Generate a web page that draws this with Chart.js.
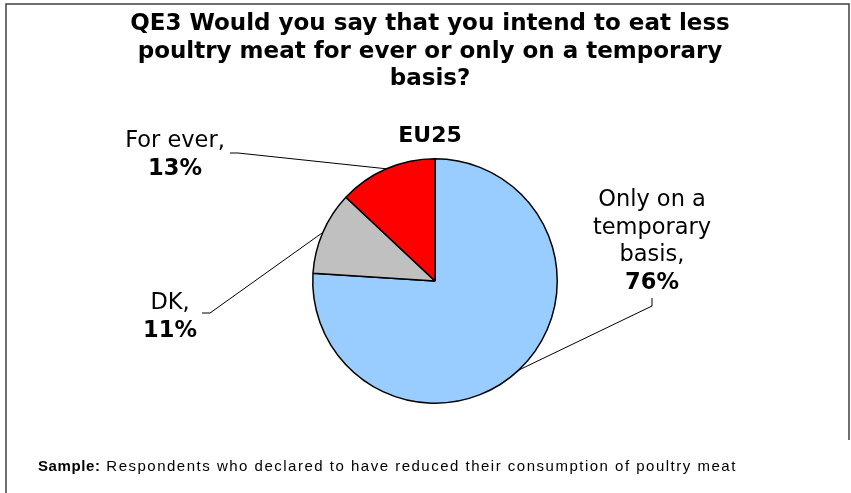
<!DOCTYPE html>
<html>
<head>
<meta charset="utf-8">
<script src="https://cdn.jsdelivr.net/npm/chart.js@4/dist/chart.umd.min.js"></script>
<style>
    html, body { margin: 0; padding: 0; background: #fff; }
    #wrap { width: 851px; height: 493px; position: relative; }
</style>
</head>
<body>
<div id="wrap"><canvas id="pie"></canvas></div>
<script>
// Данные диаграммы
const categories = ['Only on a temporary basis', 'DK', 'For ever'];
const values = [76, 11, 13];
const sliceColors = ['#99CCFF', '#C0C0C0', '#FF0000'];

// Подписи секторов (по строкам), процент добавляется жирным
const sliceLabelLines = [
    ['Only on a', 'temporary', 'basis,'],
    ['DK,'],
    ['For ever,']
];

const titleLines = [
    'QE3 Would you say that you intend to eat less',
    'poultry meat for ever or only on a temporary',
    'basis?'
];
const subTitle = 'EU25';
const sampleLabel = 'Sample:';
const sampleText = 'Respondents who declared to have reduced their consumption of poultry meat';

// Положение подписей: центр текста, базовая линия первой строки, начало выноски
const labelPlaces = [
    { x: 652, y: 206, lx: 652, ly: 298, tick: 'v' },
    { x: 170, y: 309, lx: 202, ly: 313, tick: 'h' },
    { x: 175, y: 147, lx: 230, ly: 153, tick: 'h' }
];

const LINE_H = 27.6;

const annotations = {
    id: 'annotations',
    afterDraw(chart) {
        const ctx = chart.ctx;
        const arcs = chart.getDatasetMeta(0).data;
        ctx.save();

        // рамка
        ctx.strokeStyle = '#404040';
        ctx.lineWidth = 1.5;
        ctx.beginPath();
        ctx.moveTo(6, 493);
        ctx.lineTo(6, 4);
        ctx.lineTo(849, 4);
        ctx.lineTo(849, 440);
        ctx.stroke();

        // заголовок
        ctx.fillStyle = '#000';
        ctx.textAlign = 'center';
        ctx.textBaseline = 'alphabetic';
        ctx.font = 'bold 23px "DejaVu Sans"';
        titleLines.forEach((t, i) => ctx.fillText(t, 430, 30 + i * LINE_H));

        ctx.font = 'bold 22px "DejaVu Sans"';
        ctx.fillText(subTitle, 430, 142);

        // выноски и подписи
        arcs.forEach((arc, i) => {
            const p = labelPlaces[i];
            const mid = (arc.startAngle + arc.endAngle) / 2;
            const ex = arc.x + Math.cos(mid) * arc.outerRadius;
            const ey = arc.y + Math.sin(mid) * arc.outerRadius;

            ctx.strokeStyle = '#000';
            ctx.lineWidth = 1;
            ctx.beginPath();
            ctx.moveTo(p.lx, p.ly);
            if (p.tick === 'v') {
                ctx.lineTo(p.lx, p.ly + 8);
            } else {
                ctx.lineTo(p.lx + 8, p.ly);
            }
            ctx.lineTo(ex, ey);
            ctx.stroke();

            const lines = sliceLabelLines[i];
            ctx.fillStyle = '#000';
            ctx.font = '22.5px "DejaVu Sans"';
            lines.forEach((t, k) => ctx.fillText(t, p.x, p.y + k * LINE_H));
            ctx.font = 'bold 22.5px "DejaVu Sans"';
            ctx.fillText(values[i] + '%', p.x, p.y + lines.length * LINE_H);
        });

        // примечание о выборке
        ctx.textAlign = 'left';
        ctx.font = 'bold 15px "Liberation Sans"';
        ctx.letterSpacing = '0.6px';
        ctx.fillText(sampleLabel, 38, 471);
        const w = ctx.measureText(sampleLabel + ' ').width;
        ctx.font = '15px "Liberation Sans"';
        ctx.letterSpacing = '1.5px';
        ctx.fillText(sampleText, 38 + w + 1, 471);

        ctx.restore();
    }
};

const ctx = document.getElementById('pie').getContext('2d');
new Chart(ctx, {
    type: 'pie',
    data: {
        labels: categories,
        datasets: [{
            data: values,
            backgroundColor: sliceColors,
            borderColor: '#000',
            borderWidth: 1.5
        }]
    },
    options: {
        responsive: true,
        maintainAspectRatio: false,
        animation: false,
        layout: {
            padding: { left: 169, right: 150, top: 158, bottom: 89 }
        },
        plugins: {
            legend: { display: false },
            tooltip: { enabled: false }
        }
    },
    plugins: [annotations]
});
</script>
</body>
</html>
